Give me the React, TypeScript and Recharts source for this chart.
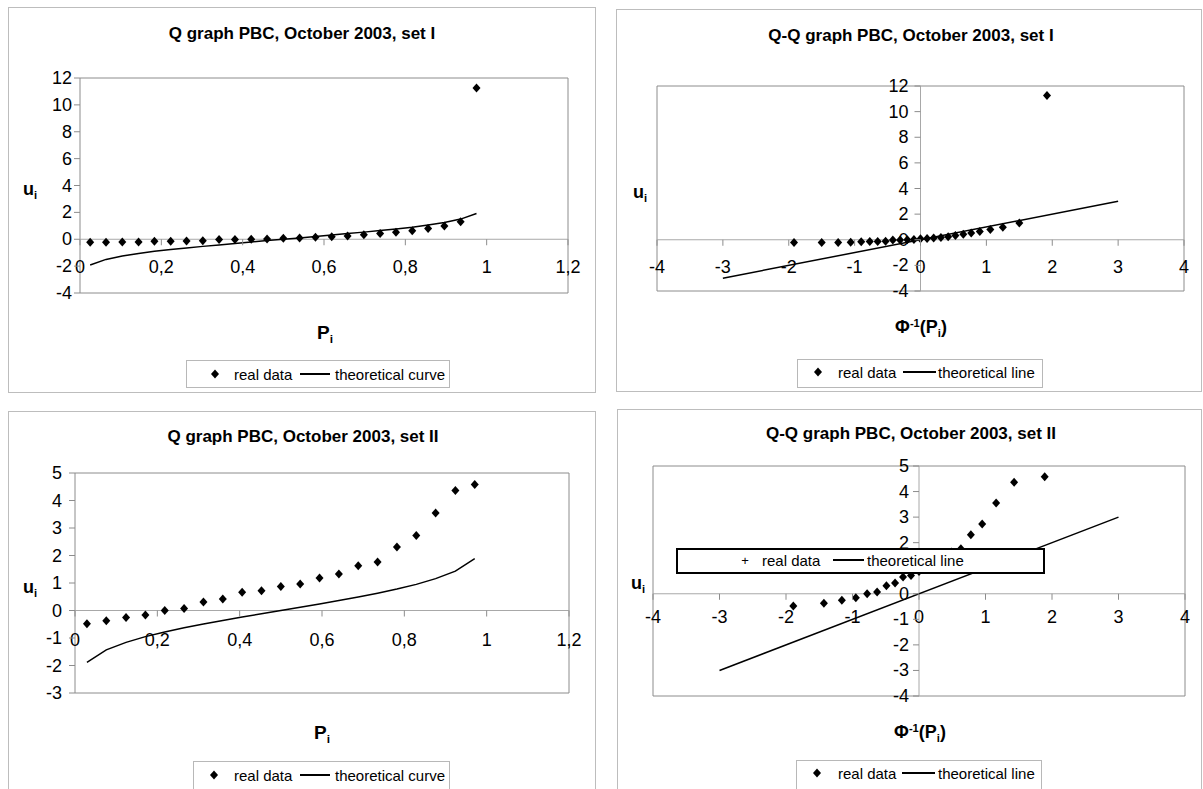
import React from 'react';
import { ScatterChart, Scatter, XAxis, YAxis, ReferenceLine, ReferenceArea } from 'recharts';

// ---------- data ----------
const pSetI = [0.025, 0.064, 0.104, 0.144, 0.183, 0.223, 0.262, 0.302, 0.342, 0.381, 0.421, 0.46, 0.5, 0.54, 0.579, 0.619, 0.658, 0.698, 0.738, 0.777, 0.817, 0.856, 0.896, 0.936, 0.975];
const uSetI = [-0.22, -0.22, -0.21, -0.2, -0.15, -0.14, -0.13, -0.11, -0.02, -0.01, 0.0, 0.02, 0.08, 0.1, 0.14, 0.18, 0.24, 0.34, 0.43, 0.52, 0.64, 0.8, 0.98, 1.3, 11.25];
const zSetI = [-1.92, -1.5, -1.25, -1.06, -0.9, -0.77, -0.65, -0.53, -0.42, -0.31, -0.2, -0.1, 0, 0.1, 0.2, 0.31, 0.42, 0.53, 0.65, 0.77, 0.9, 1.06, 1.25, 1.5, 1.92];

const pSetII = [0.029, 0.076, 0.124, 0.171, 0.218, 0.265, 0.312, 0.359, 0.406, 0.453, 0.5, 0.547, 0.594, 0.641, 0.688, 0.735, 0.782, 0.829, 0.876, 0.924, 0.971];
const uSetII = [-0.48, -0.37, -0.25, -0.16, 0.0, 0.07, 0.31, 0.42, 0.66, 0.72, 0.87, 0.96, 1.18, 1.33, 1.63, 1.76, 2.31, 2.73, 3.55, 4.36, 4.58];
const zSetII = [-1.89, -1.43, -1.16, -0.95, -0.78, -0.63, -0.49, -0.36, -0.24, -0.12, 0, 0.12, 0.24, 0.36, 0.49, 0.63, 0.78, 0.95, 1.16, 1.43, 1.89];

const lineX = [-3, 3];
const lineY = [-3, 3];

const qTicksX = [0, 0.2, 0.4, 0.6, 0.8, 1, 1.2];
const qqTicksX = [-4, -3, -2, -1, 0, 1, 2, 3, 4];
const ticksSetI = [-4, -2, 0, 2, 4, 6, 8, 10, 12];
const ticksSetIIq = [-3, -2, -1, 0, 1, 2, 3, 4, 5];
const ticksSetIIqq = [-4, -3, -2, -1, 0, 1, 2, 3, 4, 5];
// tick label hidden behind the stray legend box in the reference
const hiddenLabelsSetIIqq = [1];

const zip = (xs: number[], ys: number[]) => xs.map((x, i) => ({ x, y: ys[i] }));

const FONT = '"Liberation Sans", Arial, Helvetica, sans-serif';
const TICK_SIZE = 18;

type Box = { x: number; y: number; w: number; h: number };

const DiamondShape = (props: any) => {
  const { cx, cy } = props;
  if (cx == null || cy == null) return <g />;
  return <path d={`M${cx},${cy - 4.5}L${cx + 4},${cy}L${cx},${cy + 4.5}L${cx - 4},${cy}Z`} fill="#000" />;
};
const NoShape = () => <g />;

const fmtComma = (v: number) => String(v).replace('.', ',');

interface PanelProps {
  frame: Box;
  plot: Box;
  xDomain: [number, number];
  yDomain: [number, number];
  xTicks: number[];
  yTicks: number[];
  qq: boolean;
  xLabelDy: number;
  yLabelGap: number;
  points: { x: number; y: number }[];
  curve: { x: number; y: number }[];
  hiddenY?: number[];
}

function Panel(p: PanelProps) {
  const W = p.frame.w;
  const H = p.frame.h;
  const YW = 30;
  const XH = 30;
  const pl = p.plot.x - p.frame.x;
  const pt = p.plot.y - p.frame.y;
  const margin = { top: pt, left: pl - YW, right: W - pl - p.plot.w, bottom: H - pt - p.plot.h - XH };
  const [x0, x1] = p.xDomain;
  const [y0, y1] = p.yDomain;
  const zeroY = pt + (p.plot.h * (y1 - 0)) / (y1 - y0);
  const axisX = p.qq ? pl + (p.plot.w * (0 - x0)) / (x1 - x0) : pl;
  const hidden = p.hiddenY || [];

  const XTick = (props: any) => {
    const { x, payload } = props;
    return (
      <g>
        <line x1={x} y1={zeroY} x2={x} y2={zeroY + 6} stroke="#8c8c8c" />
        <text x={x} y={zeroY + p.xLabelDy} textAnchor="middle" dominantBaseline="central" fontSize={TICK_SIZE} fontFamily={FONT} fill="#000">
          {p.qq ? String(payload.value) : fmtComma(payload.value)}
        </text>
      </g>
    );
  };
  const YTick = (props: any) => {
    const { y, payload } = props;
    const show = hidden.indexOf(payload.value) < 0;
    return (
      <g>
        <line x1={axisX - 6} y1={y} x2={axisX} y2={y} stroke="#8c8c8c" />
        {show ? (
          <text x={axisX - p.yLabelGap} y={y} textAnchor="end" dominantBaseline="central" fontSize={TICK_SIZE} fontFamily={FONT} fill="#000">
            {String(payload.value)}
          </text>
        ) : null}
      </g>
    );
  };

  return (
    <div style={{ position: 'absolute', left: p.frame.x, top: p.frame.y, width: W, height: H }}>
      <ScatterChart width={W} height={H} margin={margin}>
        <XAxis type="number" dataKey="x" domain={p.xDomain} ticks={p.xTicks} interval={0} axisLine={false} tickLine={false} height={XH} tick={XTick} allowDataOverflow />
        <YAxis type="number" dataKey="y" domain={p.yDomain} ticks={p.yTicks} interval={0} axisLine={false} tickLine={false} width={YW} tick={YTick} allowDataOverflow />
        <ReferenceArea x1={x0} x2={x1} y1={y0} y2={y1} fill="none" fillOpacity={0} stroke="#8c8c8c" strokeWidth={1} ifOverflow="visible" />
        <ReferenceLine y={0} stroke="#a8a8a8" strokeWidth={1} />
        {p.qq ? <ReferenceLine x={0} stroke="#a8a8a8" strokeWidth={1} /> : null}
        <Scatter data={p.curve} line={{ stroke: '#000', strokeWidth: 1.5 }} lineType="joint" shape={NoShape} isAnimationActive={false} />
        <Scatter data={p.points} shape={DiamondShape} isAnimationActive={false} />
      </ScatterChart>
    </div>
  );
}

function Txt(props: { x: number; y: number; anchor?: 'start' | 'middle' | 'end'; size: number; bold?: boolean; children: React.ReactNode }) {
  const tx = props.anchor === 'middle' ? '-50%' : props.anchor === 'end' ? '-100%' : '0';
  return (
    <div
      style={{
        position: 'absolute',
        left: props.x,
        top: props.y,
        transform: `translate(${tx}, -50%)`,
        fontSize: props.size,
        fontWeight: props.bold ? 'bold' : 'normal',
        fontFamily: FONT,
        lineHeight: 1,
        whiteSpace: 'nowrap',
        color: '#000',
        zIndex: 3,
      }}
    >
      {props.children}
    </div>
  );
}

const Sub = ({ children }: { children: React.ReactNode }) => (
  <span style={{ fontSize: '0.62em', position: 'relative', top: '0.35em' }}>{children}</span>
);
const Sup = ({ children }: { children: React.ReactNode }) => (
  <span style={{ fontSize: '0.62em', position: 'relative', top: '-0.5em' }}>{children}</span>
);

function LegendBox(props: { box: Box; cy: number; diamondX: number; realX: number; lineX1: number; lineX2: number; theoX: number; theoLabel: string; marker?: 'diamond' | 'plus'; thick?: boolean }) {
  const { box } = props;
  return (
    <>
      <div
        style={{
          position: 'absolute',
          left: box.x,
          top: box.y,
          width: box.w,
          height: box.h,
          boxSizing: 'border-box',
          border: props.thick ? '2px solid #000' : '1px solid #b8b8b8',
          background: '#fff',
          zIndex: 2,
        }}
      />
      {props.marker === 'plus' ? (
        <Txt x={props.diamondX} y={props.cy} anchor="middle" size={13}>+</Txt>
      ) : (
        <svg style={{ position: 'absolute', left: props.diamondX - 5, top: props.cy - 5, zIndex: 3 }} width={10} height={10}>
          <path d="M5,0.5L9,5L5,9.5L1,5Z" fill="#000" />
        </svg>
      )}
      <Txt x={props.realX} y={props.cy} size={15}>real data</Txt>
      <div style={{ position: 'absolute', left: props.lineX1, top: props.cy - 0.75, width: props.lineX2 - props.lineX1, height: 1.5, background: '#000', zIndex: 3 }} />
      <Txt x={props.theoX} y={props.cy} size={15}>{props.theoLabel}</Txt>
    </>
  );
}

const Frame = ({ b }: { b: Box }) => (
  <div style={{ position: 'absolute', left: b.x, top: b.y, width: b.w, height: b.h, boxSizing: 'border-box', border: '1px solid #bdbdbd', background: '#fff' }} />
);

export default function App() {
  const f1: Box = { x: 8, y: 7, w: 588, h: 386 };
  const f2: Box = { x: 616, y: 9, w: 586, h: 383 };
  const f3: Box = { x: 8, y: 411, w: 588, h: 400 };
  const f4: Box = { x: 617, y: 409, w: 585, h: 400 };

  return (
    <div style={{ position: 'absolute', left: 0, top: 0, width: 1203, height: 789, overflow: 'hidden', background: '#fff', fontFamily: FONT }}>
      <Frame b={f1} />
      <Frame b={f2} />
      <Frame b={f3} />
      <Frame b={f4} />

      {/* Panel 1: Q graph set I */}
      <Panel
        frame={f1}
        plot={{ x: 80, y: 78, w: 488, h: 215 }}
        xDomain={[0, 1.2]}
        yDomain={[-4, 12]}
        xTicks={qTicksX}
        yTicks={ticksSetI}
        qq={false}
        xLabelDy={28}
        yLabelGap={8}
        points={zip(pSetI, uSetI)}
        curve={zip(pSetI, zSetI)}
      />
      <Txt x={302} y={33} anchor="middle" size={17} bold>Q graph PBC, October 2003, set I</Txt>
      <Txt x={23} y={189} size={18} bold>u<Sub>i</Sub></Txt>
      <Txt x={325} y={332} anchor="middle" size={19} bold>P<Sub>i</Sub></Txt>
      <LegendBox box={{ x: 186, y: 360, w: 264, h: 28 }} cy={374} diamondX={215} realX={234} lineX1={300} lineX2={330} theoX={335} theoLabel="theoretical curve" />

      {/* Panel 2: Q-Q graph set I */}
      <Panel
        frame={f2}
        plot={{ x: 657, y: 86, w: 527, h: 205 }}
        xDomain={[-4, 4]}
        yDomain={[-4, 12]}
        xTicks={qqTicksX}
        yTicks={ticksSetI}
        qq={true}
        xLabelDy={27}
        yLabelGap={12}
        points={zip(zSetI, uSetI)}
        curve={zip(lineX, lineY)}
      />
      <Txt x={911} y={35} anchor="middle" size={17} bold>Q-Q graph PBC, October 2003, set I</Txt>
      <Txt x={633} y={192} size={18} bold>u<Sub>i</Sub></Txt>
      <Txt x={921} y={327} anchor="middle" size={18} bold>Φ<Sup>-1</Sup>(P<Sub>i</Sub>)</Txt>
      <LegendBox box={{ x: 797, y: 359, w: 246, h: 29 }} cy={372} diamondX={818} realX={838} lineX1={903} lineX2={936} theoX={938} theoLabel="theoretical line" />

      {/* Panel 3: Q graph set II */}
      <Panel
        frame={f3}
        plot={{ x: 75, y: 473, w: 494, h: 220 }}
        xDomain={[0, 1.2]}
        yDomain={[-3, 5]}
        xTicks={qTicksX}
        yTicks={ticksSetIIq}
        qq={false}
        xLabelDy={29}
        yLabelGap={13}
        points={zip(pSetII, uSetII)}
        curve={zip(pSetII, zSetII)}
      />
      <Txt x={303} y={436} anchor="middle" size={17} bold>Q graph PBC, October 2003, set II</Txt>
      <Txt x={23} y={587} size={18} bold>u<Sub>i</Sub></Txt>
      <Txt x={322} y={732} anchor="middle" size={19} bold>P<Sub>i</Sub></Txt>
      <LegendBox box={{ x: 193, y: 761, w: 257, h: 30 }} cy={775} diamondX={214} realX={234} lineX1={300} lineX2={330} theoX={335} theoLabel="theoretical curve" />

      {/* Panel 4: Q-Q graph set II */}
      <Panel
        frame={f4}
        plot={{ x: 653, y: 466, w: 532, h: 230 }}
        xDomain={[-4, 4]}
        yDomain={[-4, 5]}
        xTicks={qqTicksX}
        yTicks={ticksSetIIqq}
        qq={true}
        xLabelDy={23}
        yLabelGap={10}
        points={zip(zSetII, uSetII)}
        curve={zip(lineX, lineY)}
        hiddenY={hiddenLabelsSetIIqq}
      />
      <Txt x={911} y={433} anchor="middle" size={17} bold>Q-Q graph PBC, October 2003, set II</Txt>
      <Txt x={631} y={583} size={18} bold>u<Sub>i</Sub></Txt>
      <Txt x={920} y={732} anchor="middle" size={18} bold>Φ<Sup>-1</Sup>(P<Sub>i</Sub>)</Txt>
      <LegendBox box={{ x: 796, y: 760, w: 246, h: 30 }} cy={773} diamondX={817} realX={838} lineX1={902} lineX2={935} theoX={938} theoLabel="theoretical line" />

      {/* stray legend box inside Q-Q set II plot */}
      <LegendBox box={{ x: 676, y: 548, w: 369, h: 26 }} cy={560} diamondX={745} realX={762} lineX1={833} lineX2={864} theoX={867} theoLabel="theoretical line" marker="plus" thick />
    </div>
  );
}
